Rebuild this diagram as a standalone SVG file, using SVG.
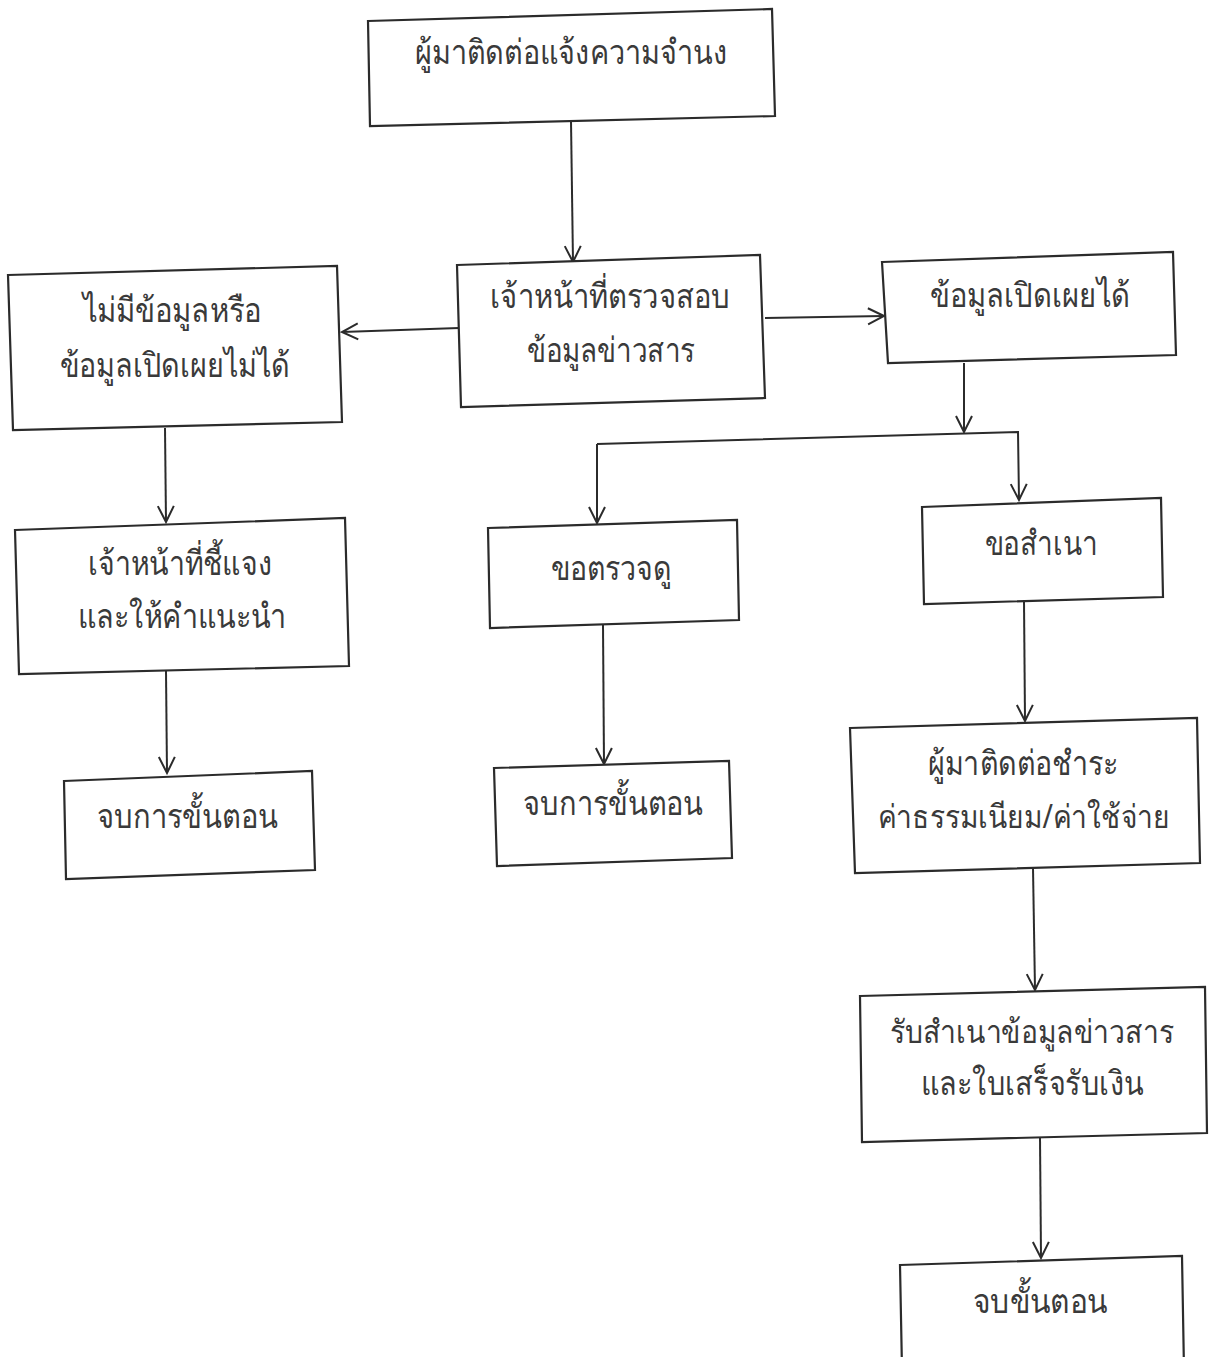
<svg xmlns="http://www.w3.org/2000/svg" width="1209" height="1357" viewBox="0 0 1209 1357">
<defs>
<style>
.box{fill:#ffffff;stroke:#2b2b2b;stroke-width:2.2}
.lbl{font-family:"Noto Sans","DejaVu Sans",sans-serif;font-size:34px;fill:#3a3a3a;text-anchor:middle}
.lbl.s{font-size:32px}
.con{fill:none;stroke:#2b2b2b;stroke-width:2}
</style>
<marker id="arr" viewBox="0 0 20 20" refX="18" refY="10" markerWidth="20" markerHeight="20" markerUnits="userSpaceOnUse" orient="auto">
<path d="M2,2 L18,10 L2,18" fill="none" stroke="#2b2b2b" stroke-width="2"/>
</marker>
</defs>
<rect width="1209" height="1357" fill="#ffffff"/>
<g id="connectors">
<line class="con" x1="571" y1="121" x2="573" y2="262" marker-end="url(#arr)"/>
<line class="con" x1="459" y1="328" x2="342" y2="332" marker-end="url(#arr)"/>
<line class="con" x1="765" y1="318" x2="884" y2="316" marker-end="url(#arr)"/>
<line class="con" x1="964" y1="363" x2="964" y2="432" marker-end="url(#arr)"/>
<polyline class="con" points="597,444 1018,432 1019,500" marker-end="url(#arr)"/>
<line class="con" x1="597" y1="444" x2="597" y2="523" marker-end="url(#arr)"/>
<line class="con" x1="165" y1="428" x2="166" y2="522" marker-end="url(#arr)"/>
<line class="con" x1="166" y1="671" x2="167" y2="773" marker-end="url(#arr)"/>
<line class="con" x1="603" y1="625" x2="604" y2="764" marker-end="url(#arr)"/>
<line class="con" x1="1024" y1="601" x2="1025" y2="721" marker-end="url(#arr)"/>
<line class="con" x1="1033" y1="868" x2="1035" y2="990" marker-end="url(#arr)"/>
<line class="con" x1="1040" y1="1138" x2="1041" y2="1258" marker-end="url(#arr)"/>
</g>
<g id="n1"><polygon class="box" points="368,21 772,9 775,116 370,126"/><text class="lbl" x="571" y="64" textLength="312" lengthAdjust="spacingAndGlyphs">ผู้มาติดต่อแจ้งความจำนง</text></g>
<g id="n2"><polygon class="box" points="457,265 760,255 765,398 461,407"/><text class="lbl" x="610" y="308" textLength="240" lengthAdjust="spacingAndGlyphs">เจ้าหน้าที่ตรวจสอบ</text><text class="lbl" x="611" y="362" textLength="168" lengthAdjust="spacingAndGlyphs">ข้อมูลข่าวสาร</text></g>
<g id="n3"><polygon class="box" points="8,275 337,266 342,422 13,430"/><text class="lbl" x="172" y="322" textLength="179" lengthAdjust="spacingAndGlyphs">ไม่มีข้อมูลหรือ</text><text class="lbl" x="175" y="377" textLength="230" lengthAdjust="spacingAndGlyphs">ข้อมูลเปิดเผยไม่ได้</text></g>
<g id="n4"><polygon class="box" points="882,262 1173,252 1176,355 888,363"/><text class="lbl" x="1030" y="307" textLength="200" lengthAdjust="spacingAndGlyphs">ข้อมูลเปิดเผยได้</text></g>
<g id="n5"><polygon class="box" points="488,528 737,520 739,620 490,628"/><text class="lbl" x="611" y="580" textLength="121" lengthAdjust="spacingAndGlyphs">ขอตรวจดู</text></g>
<g id="n6"><polygon class="box" points="922,507 1161,498 1163,597 924,604"/><text class="lbl" x="1041" y="555" textLength="113" lengthAdjust="spacingAndGlyphs">ขอสำเนา</text></g>
<g id="n7"><polygon class="box" points="15,530 345,518 349,666 19,674"/><text class="lbl" x="180" y="575" textLength="184" lengthAdjust="spacingAndGlyphs">เจ้าหน้าที่ชี้แจง</text><text class="lbl" x="182" y="628" textLength="209" lengthAdjust="spacingAndGlyphs">และให้คำแนะนำ</text></g>
<g id="n8"><polygon class="box" points="64,781 312,771 315,870 66,879"/><text class="lbl" x="187" y="828" textLength="181" lengthAdjust="spacingAndGlyphs">จบการขั้นตอน</text></g>
<g id="n9"><polygon class="box" points="494,768 729,761 732,858 497,866"/><text class="lbl" x="613" y="815" textLength="180" lengthAdjust="spacingAndGlyphs">จบการขั้นตอน</text></g>
<g id="n10"><polygon class="box" points="850,728 1197,718 1200,863 855,873"/><text class="lbl" x="1023" y="775" textLength="190" lengthAdjust="spacingAndGlyphs">ผู้มาติดต่อชำระ</text><text class="lbl s" x="1024" y="828" textLength="292" lengthAdjust="spacingAndGlyphs">ค่าธรรมเนียม/ค่าใช้จ่าย</text></g>
<g id="n11"><polygon class="box" points="860,996 1205,987 1207,1133 862,1142"/><text class="lbl s" x="1032" y="1043" textLength="284" lengthAdjust="spacingAndGlyphs">รับสำเนาข้อมูลข่าวสาร</text><text class="lbl" x="1032" y="1095" textLength="223" lengthAdjust="spacingAndGlyphs">และใบเสร็จรับเงิน</text></g>
<g id="n12"><polygon class="box" points="900,1265 1182,1256 1184,1370 902,1370"/><text class="lbl" x="1040" y="1313" textLength="135" lengthAdjust="spacingAndGlyphs">จบขั้นตอน</text></g>
</svg>
